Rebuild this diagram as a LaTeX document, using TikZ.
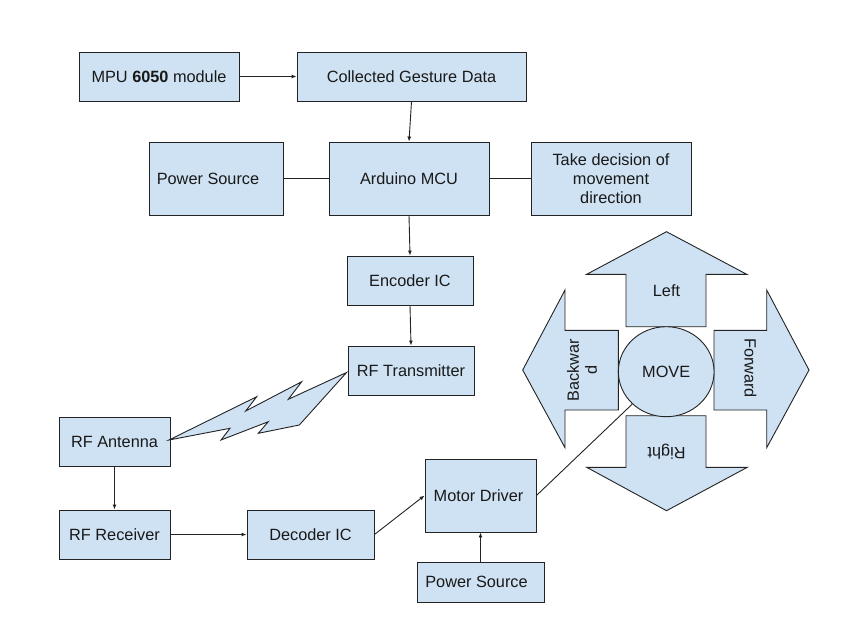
\documentclass[tikz,border=0pt]{standalone}
\usepackage{fontspec}
\setmainfont{Liberation Sans}
\usetikzlibrary{arrows.meta,shapes.geometric}
\definecolor{boxblue}{RGB}{207,226,243}
\definecolor{edge}{RGB}{35,35,35}
\begin{document}
\begin{tikzpicture}[x=1pt,y=-1pt,
  box/.style={draw=edge, fill=boxblue, line width=0.9pt, inner sep=0pt, align=center,
    font=\fontsize{16.3}{19}\selectfont, text=black!90},
  conn/.style={draw=edge, line width=0.9pt},
  arr/.style={conn, -{Latex[length=5pt,width=4pt]}},
  shapefill/.style={draw=edge, fill=boxblue, line width=0.9pt, line join=miter},
  lbl/.style={font=\fontsize{16.3}{18}\selectfont, align=center, inner sep=0pt, text=black!90}]
\useasboundingbox[fill=white] (0,0) rectangle (850,638);

% boxes
\node[box, minimum width=160pt, minimum height=49pt] (mpu) at (159,76.5) {MPU \textbf{6050} module};
\node[box, minimum width=229pt, minimum height=49pt] (cgd) at (411.5,76.5) {Collected Gesture Data};
\node[box, minimum width=134pt, minimum height=73pt] (ps1) at (216,178.5) {\hspace*{-16pt}Power Source};
\node[box, minimum width=160pt, minimum height=73pt] (ard) at (409,178.5) {Arduino MCU};
\node[box, minimum width=160pt, minimum height=73pt] (take) at (611,178.5) {Take decision of\\movement\\direction};
\node[box, minimum width=126pt, minimum height=49pt] (enc) at (410,280.5) {Encoder IC};
\node[box, minimum width=126pt, minimum height=49pt] (rft) at (411,370.5) {RF Transmitter};
\node[box, minimum width=111pt, minimum height=49pt] (ant) at (114.5,441.5) {RF Antenna};
\node[box, minimum width=111pt, minimum height=49pt] (rcv) at (114.5,534.5) {RF Receiver};
\node[box, minimum width=127pt, minimum height=49pt] (dcd) at (310.5,534.5) {Decoder IC};
\node[box, minimum width=111pt, minimum height=73pt] (mot) at (480.5,495.5) {\hspace*{-4pt}Motor Driver};
\node[box, minimum width=127pt, minimum height=40pt] (ps2) at (480.5,582) {\hspace*{-8pt}Power Source};

% connectors
\draw[arr] (mpu.east) -- (cgd.west);
\draw[arr] (cgd.south) -- (ard.north);
\draw[conn] (ps1.east) -- (ard.west);
\draw[conn] (ard.east) -- (take.west);
\draw[arr] (ard.south) -- (enc.north);
\draw[arr] (enc.south) -- (rft.north);
\draw[arr] (ant.south) -- (rcv.north);
\draw[arr] (rcv.east) -- (dcd.west);
\draw[arr] (dcd.east) -- (mot.west);
\draw[arr] (ps2.north) -- (mot.south);

% lightning bolt
\draw[shapefill] ([xshift=-1.5pt,yshift=1.5pt]ant.east) -- (256.7,396.7) -- (245.7,411) -- (301.7,381.7)
  -- (288.3,399.3) -- ([xshift=-1pt,yshift=-2pt]rft.west) -- (299.3,425) -- (258.3,433.3)
  -- (268.3,421.7) -- (221,440) -- (230,428.3) -- cycle;

% direction arrows
\draw[shapefill] (666.5,231.7) -- (746.7,274.3) -- (706,274.3) -- (706,326.7) -- (626,326.7)
  -- (626,274.3) -- (586.7,274.3) -- cycle;
\draw[shapefill] (626,415.7) -- (706,415.7) -- (706,467.3) -- (747.3,467.3) -- (666.5,510.7)
  -- (586.7,467.3) -- (626,467.3) -- cycle;
\draw[shapefill] (522.7,370) -- (565,290) -- (565,330.3) -- (618.3,330.3) -- (618.3,410)
  -- (565,410) -- (565,447.7) -- cycle;
\draw[shapefill] (714,330.3) -- (766.7,330.3) -- (766.7,290) -- (809,370) -- (766.7,447.7)
  -- (766.7,410) -- (714,410) -- cycle;

\node[box, ellipse, minimum width=95.7pt, minimum height=90pt] (move) at (666.2,371.7) {MOVE};

\node[lbl] (tleft) at (666.5,291) {Left};
\node[lbl, rotate=180] (tright) at (666.5,452) {Right};
\node[lbl, rotate=90] (tback) at (582,370) {Backwar\\d};
\node[lbl, rotate=-90] (tfwd) at (750.5,368) {Forward};

\draw[conn] (mot.east) -- (move);
\end{tikzpicture}
\end{document}
